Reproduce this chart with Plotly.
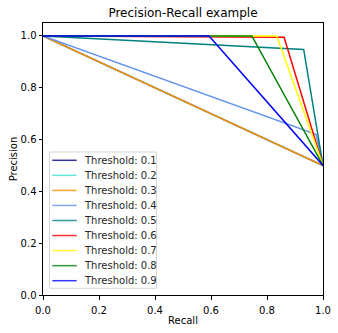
import plotly.graph_objects as go

thresholds = [0.1, 0.2, 0.3, 0.4, 0.5, 0.6, 0.7, 0.8, 0.9]
colors = ["navy", "turquoise", "darkorange", "cornflowerblue", "teal", "red", "yellow", "green", "blue"]
legend_colors = ["rgba(0,0,128,0.8)", "rgba(64,224,208,0.8)", "rgba(255,140,0,0.8)",
                 "rgba(100,149,237,0.8)", "rgba(0,128,128,0.8)", "rgba(255,0,0,0.8)",
                 "rgba(255,255,0,0.8)", "rgba(0,128,0,0.8)", "rgba(0,0,255,0.8)"]
recalls = [
    [1.0, 0.0],
    [1.0, 0.0],
    [1.0, 0.0],
    [1.0, 0.975, 0.0],
    [1.0, 0.931, 0.0],
    [1.0, 0.861, 0.0],
    [1.0, 0.835, 0.0],
    [1.0, 0.746, 0.0],
    [1.0, 0.593, 0.0],
]
precisions = [
    [0.5, 1.0],
    [0.5, 1.0],
    [0.5, 1.0],
    [0.5, 0.62, 1.0],
    [0.5, 0.948, 1.0],
    [0.5, 0.995, 1.0],
    [0.5, 1.0, 1.0],
    [0.5, 1.0, 1.0],
    [0.5, 1.0, 1.0],
]

W, H = 338, 333
ML, MR, MT, MB = 43, 15, 23, 38
PW, PH = W - ML - MR, H - MT - MB


def px_x(px):
    return (px - ML) / PW


def px_y(py):
    return (H - MB - py) / PH


fig = go.Figure()
for t, c, r, p in zip(thresholds, colors, recalls, precisions):
    fig.add_trace(go.Scatter(x=r, y=p, mode="lines", line=dict(color=c, width=1.5),
                             name="Threshold: %s" % t, showlegend=False))

font = "DejaVu Sans"

# manual matplotlib-style legend
shapes = [dict(type="rect", xref="paper", yref="paper",
               x0=px_x(49.5), x1=px_x(156.5), y0=px_y(288.3), y1=px_y(152),
               fillcolor="rgba(255,255,255,0.8)", line=dict(color="rgba(204,204,204,0.8)", width=1),
               layer="above")]
annotations = []
for i, (t, lc) in enumerate(zip(thresholds, legend_colors)):
    cy = 160.3 + i * 15.05
    shapes.append(dict(type="line", xref="paper", yref="paper",
                       x0=px_x(52.3), x1=px_x(76.7), y0=px_y(cy), y1=px_y(cy),
                       line=dict(color=lc, width=1.5), layer="above"))
    annotations.append(dict(xref="paper", yref="paper", x=px_x(81.5), y=px_y(cy),
                            xanchor="left", yanchor="middle", showarrow=False,
                            text="Threshold: %s" % t,
                            font=dict(family=font, size=10, color="#262626")))

axis_common = dict(
    showgrid=False, zeroline=False, showline=True, linecolor="black", linewidth=1,
    mirror=True, ticks="outside", ticklen=3.5, tickwidth=1, tickcolor="black",
    tickfont=dict(family=font, size=10, color="black"),
    tickvals=[0, 0.2, 0.4, 0.6, 0.8, 1.0], tickformat=".1f", automargin=False,
)
fig.update_layout(
    width=W, height=H,
    margin=dict(l=ML, r=MR, t=MT, b=MB),
    paper_bgcolor="white", plot_bgcolor="white",
    title=dict(text="Precision-Recall example", x=px_x(183), xref="paper", xanchor="center",
               y=1 - 13 / H, yanchor="middle", font=dict(family=font, size=12, color="black")),
    xaxis=dict(range=[0, 1], ticklabelstandoff=2,
               title=dict(text="Recall", font=dict(family=font, size=10, color="black"), standoff=2),
               **axis_common),
    yaxis=dict(range=[0, 1.05],
               title=dict(text="Precision", font=dict(family=font, size=10, color="black"), standoff=1),
               **axis_common),
    shapes=shapes,
    annotations=annotations,
    showlegend=False,
)
fig.write_html("out.html")
